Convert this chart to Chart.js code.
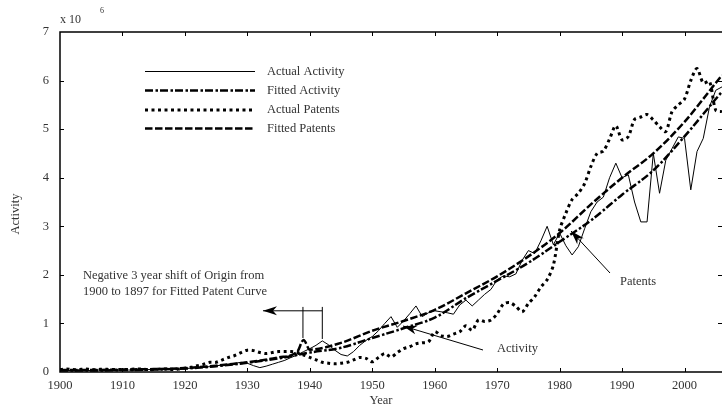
<!DOCTYPE html>
<html>
<head>
<meta charset="utf-8">
<script src="https://cdn.jsdelivr.net/npm/chart.js@4"></script>
<style>
  html, body { margin: 0; padding: 0; background: #fff; overflow: hidden; }
  #chart { display: block; }
</style>
</head>
<body>
<canvas id="chart" width="722" height="410"></canvas>
<script>
// Данные графика (значения в единицах x 10^6)
const firstYear = 1900;

const actualActivity = [
    0.03, 0.03, 0.03, 0.03, 0.03, 0.03, 0.04, 0.04, 0.04, 0.04,
    0.04, 0.04, 0.04, 0.05, 0.05, 0.05, 0.05, 0.05, 0.06, 0.06,
    0.07, 0.08, 0.09, 0.10, 0.11, 0.13, 0.14, 0.16, 0.18, 0.20,
    0.18, 0.13, 0.09, 0.12, 0.16, 0.20, 0.24, 0.30, 0.35, 0.42,
    0.48, 0.55, 0.64, 0.56, 0.45, 0.36, 0.33, 0.42, 0.55, 0.65,
    0.73, 0.85, 1.00, 1.14, 0.92, 1.05, 1.20, 1.36, 1.14, 1.22,
    1.26, 1.24, 1.22, 1.19, 1.38, 1.48, 1.36, 1.48, 1.60, 1.70,
    1.90, 1.98, 1.96, 2.02, 2.30, 2.50, 2.44, 2.70, 3.00, 2.62,
    2.86, 2.60, 2.41, 2.58, 2.95, 3.30, 3.50, 3.60, 4.00, 4.30,
    4.00, 4.06, 3.50, 3.09, 3.09, 4.50, 3.68, 4.36, 4.60, 4.84,
    4.81, 3.75, 4.54, 4.81, 5.46, 5.80, 5.87
];

const actualPatents = [
    0.05, 0.06, 0.05, 0.05, 0.06, 0.05, 0.05, 0.06, 0.05, 0.05,
    0.05, 0.05, 0.06, 0.06, 0.05, 0.05, 0.06, 0.06, 0.05, 0.06,
    0.08, 0.10, 0.13, 0.16, 0.20, 0.20, 0.25, 0.30, 0.34, 0.40,
    0.45, 0.44, 0.40, 0.38, 0.40, 0.42, 0.42, 0.42, 0.40, 0.35,
    0.30, 0.25, 0.20, 0.18, 0.17, 0.18, 0.20, 0.25, 0.30, 0.28,
    0.21, 0.30, 0.38, 0.31, 0.40, 0.48, 0.52, 0.58, 0.60, 0.62,
    0.83, 0.75, 0.73, 0.78, 0.83, 0.95, 0.86, 1.07, 1.04, 1.07,
    1.20, 1.40, 1.43, 1.35, 1.24, 1.41, 1.55, 1.75, 1.90, 2.20,
    2.92, 3.27, 3.55, 3.68, 3.88, 4.23, 4.50, 4.55, 4.80, 5.07,
    4.78, 4.85, 5.20, 5.25, 5.30, 5.19, 5.05, 4.95, 5.36, 5.50,
    5.62, 6.00, 6.25, 5.95, 5.98, 5.39, 5.36
];

const fittedActivityYears = [1900, 1905, 1910, 1915, 1920, 1925, 1930, 1935, 1940, 1945, 1950, 1955,
    1960, 1965, 1970, 1975, 1980, 1985, 1990, 1995, 2000, 2005, 2006];
const fittedActivity = [0.03, 0.03, 0.04, 0.05, 0.07, 0.12, 0.19, 0.28, 0.40, 0.50, 0.70, 0.90,
    1.12, 1.52, 1.88, 2.25, 2.68, 3.12, 3.65, 4.15, 4.85, 5.62, 5.77];

const fittedPatentsYears = [1900, 1905, 1910, 1915, 1920, 1925, 1930, 1935, 1938, 1939, 1940, 1945,
    1950, 1955, 1960, 1965, 1970, 1975, 1980, 1985, 1990, 1995, 2000, 2005, 2006];
const fittedPatents = [0.04, 0.04, 0.05, 0.06, 0.08, 0.13, 0.20, 0.30, 0.42, 0.66, 0.46, 0.60,
    0.85, 1.05, 1.28, 1.62, 1.97, 2.38, 2.86, 3.45, 4.00, 4.50, 5.15, 5.95, 6.11];

const xTicks = [1900, 1910, 1920, 1930, 1940, 1950, 1960, 1970, 1980, 1990, 2000];
const yTicks = [0, 1, 2, 3, 4, 5, 6, 7];

const seriesLabels = ['Actual Activity', 'Fitted Activity', 'Actual Patents', 'Fitted Patents'];

// Вспомогательные функции
function toPoints(xs, ys) {
    return ys.map((v, i) => ({ x: xs[i], y: v }));
}
function yearly(values) {
    return values.map((v, i) => ({ x: firstYear + i, y: v }));
}

const SERIF = '"Liberation Serif", "DejaVu Serif", serif';
const TEXT_COLOR = '#333';

// Стили линий
const styles = [
    { width: 1, dash: [] },
    { width: 2.5, dash: [8, 2.5, 2.5, 2] },
    { width: 3, dash: [3, 3.5] },
    { width: 2.5, dash: [7.5, 2.5] }
];

function drawArrow(ctx, x1, y1, x2, y2) {
    ctx.save();
    ctx.strokeStyle = '#000';
    ctx.fillStyle = '#000';
    ctx.lineWidth = 1;
    ctx.setLineDash([]);
    ctx.beginPath();
    ctx.moveTo(x1, y1);
    ctx.lineTo(x2, y2);
    ctx.stroke();
    const a = Math.atan2(y2 - y1, x2 - x1);
    const len = 14, half = 4.5, notch = 10;
    ctx.translate(x2, y2);
    ctx.rotate(a);
    ctx.beginPath();
    ctx.moveTo(0, 0);
    ctx.lineTo(-len, -half);
    ctx.lineTo(-notch, 0);
    ctx.lineTo(-len, half);
    ctx.closePath();
    ctx.fill();
    ctx.restore();
}

// Плагин: рамка, внутренние засечки, легенда, подписи и стрелки
const decorPlugin = {
    id: 'decor',
    afterDatasetsDraw(chart) {
        const ctx = chart.ctx;
        const sx = chart.scales.x;
        const sy = chart.scales.y;
        const area = chart.chartArea;
        const px = v => sx.getPixelForValue(v);
        const py = v => sy.getPixelForValue(v);

        ctx.save();

        // Рамка
        ctx.strokeStyle = '#000';
        ctx.lineWidth = 1.5;
        ctx.beginPath();
        ctx.moveTo(area.right + 2, area.top);
        ctx.lineTo(area.left, area.top);
        ctx.lineTo(area.left, area.bottom);
        ctx.lineTo(area.right + 2, area.bottom);
        ctx.stroke();

        // Засечки внутрь
        ctx.lineWidth = 1;
        ctx.beginPath();
        xTicks.forEach(t => {
            if (t === xTicks[0]) return;
            const x = Math.round(px(t)) + 0.5;
            ctx.moveTo(x, area.bottom);
            ctx.lineTo(x, area.bottom - 4);
            ctx.moveTo(x, area.top);
            ctx.lineTo(x, area.top + 4);
        });
        yTicks.forEach(t => {
            if (t === 0 || t === 7) return;
            const y = Math.round(py(t)) + 0.5;
            ctx.moveTo(area.left, y);
            ctx.lineTo(area.left + 4, y);
            ctx.moveTo(area.right, y);
            ctx.lineTo(area.right - 4, y);
        });
        ctx.stroke();

        // Легенда
        const legendY = [71.5, 90.5, 110, 128.5];
        ctx.font = '12.5px ' + SERIF;
        ctx.textBaseline = 'middle';
        ctx.textAlign = 'left';
        seriesLabels.forEach((label, i) => {
            ctx.strokeStyle = '#000';
            ctx.lineWidth = styles[i].width;
            ctx.setLineDash(styles[i].dash);
            ctx.beginPath();
            ctx.moveTo(145, legendY[i]);
            ctx.lineTo(255, legendY[i]);
            ctx.stroke();
            ctx.setLineDash([]);
            ctx.fillStyle = TEXT_COLOR;
            ctx.fillText(label, 267, legendY[i]);
        });

        // Множитель оси
        ctx.fillStyle = TEXT_COLOR;
        ctx.font = '12px ' + SERIF;
        ctx.fillText('x 10', 60, 20);
        ctx.font = '8px ' + SERIF;
        ctx.fillText('6', 100, 11);

        // Подписи осей
        ctx.font = '12.5px ' + SERIF;
        ctx.textAlign = 'center';
        ctx.fillText('Year', 381, 401);
        ctx.save();
        ctx.translate(16, 214);
        ctx.rotate(-Math.PI / 2);
        ctx.fillText('Activity', 0, 0);
        ctx.restore();

        // Аннотация про сдвиг начала отсчёта
        ctx.textAlign = 'left';
        ctx.font = '12.5px ' + SERIF;
        ctx.fillText('Negative 3 year shift of Origin from', 83, 276);
        ctx.fillText('1900 to 1897 for Fitted Patent Curve', 83, 292);

        ctx.strokeStyle = '#000';
        ctx.lineWidth = 1;
        ctx.beginPath();
        ctx.moveTo(px(1938.9), py(1.34));
        ctx.lineTo(px(1938.9), py(0.70));
        ctx.moveTo(px(1942.0), py(1.34));
        ctx.lineTo(px(1942.0), py(0.68));
        ctx.stroke();
        drawArrow(ctx, px(1942.0), py(1.26), px(1932.5), py(1.26));

        // Стрелки к кривым
        ctx.fillStyle = TEXT_COLOR;
        ctx.fillText('Activity', 497, 349);
        drawArrow(ctx, 483, 350, 403, 326);

        ctx.fillStyle = TEXT_COLOR;
        ctx.fillText('Patents', 620, 282);
        drawArrow(ctx, 610, 273, 571, 231);

        ctx.restore();
    }
};

const ctx = document.getElementById('chart').getContext('2d');
const chart = new Chart(ctx, {
    type: 'line',
    data: {
        datasets: [
            {
                label: seriesLabels[0],
                data: yearly(actualActivity),
                borderColor: '#000',
                borderWidth: styles[0].width,
                borderDash: styles[0].dash,
                pointRadius: 0,
                tension: 0
            },
            {
                label: seriesLabels[1],
                data: toPoints(fittedActivityYears, fittedActivity),
                borderColor: '#000',
                borderWidth: styles[1].width,
                borderDash: styles[1].dash,
                pointRadius: 0,
                cubicInterpolationMode: 'monotone'
            },
            {
                label: seriesLabels[2],
                data: yearly(actualPatents),
                borderColor: '#000',
                borderWidth: styles[2].width,
                borderDash: styles[2].dash,
                pointRadius: 0,
                tension: 0.3
            },
            {
                label: seriesLabels[3],
                data: toPoints(fittedPatentsYears, fittedPatents),
                borderColor: '#000',
                borderWidth: styles[3].width,
                borderDash: styles[3].dash,
                pointRadius: 0,
                cubicInterpolationMode: 'monotone'
            }
        ]
    },
    options: {
        responsive: false,
        animation: false,
        layout: { padding: { top: 32, right: 0, left: 0, bottom: 0 } },
        plugins: {
            legend: { display: false },
            tooltip: { enabled: false }
        },
        scales: {
            x: {
                type: 'linear',
                min: 1900,
                max: 2006,
                grid: { display: false, drawTicks: false },
                border: { display: false },
                afterFit: scale => { scale.height = 38; },
                afterBuildTicks: scale => { scale.ticks = xTicks.map(v => ({ value: v })); },
                ticks: {
                    padding: 6,
                    color: TEXT_COLOR,
                    font: { family: SERIF, size: 12.5 },
                    maxRotation: 0,
                    autoSkip: false,
                    callback: v => String(v)
                }
            },
            y: {
                min: 0,
                max: 7,
                grid: { display: false, drawTicks: false },
                border: { display: false },
                afterFit: scale => { scale.width = 60; },
                afterBuildTicks: scale => { scale.ticks = yTicks.map(v => ({ value: v })); },
                ticks: {
                    padding: 11,
                    color: TEXT_COLOR,
                    font: { family: SERIF, size: 12.5 },
                    callback: v => String(v)
                }
            }
        }
    },
    plugins: [decorPlugin]
});
</script>
</body>
</html>
